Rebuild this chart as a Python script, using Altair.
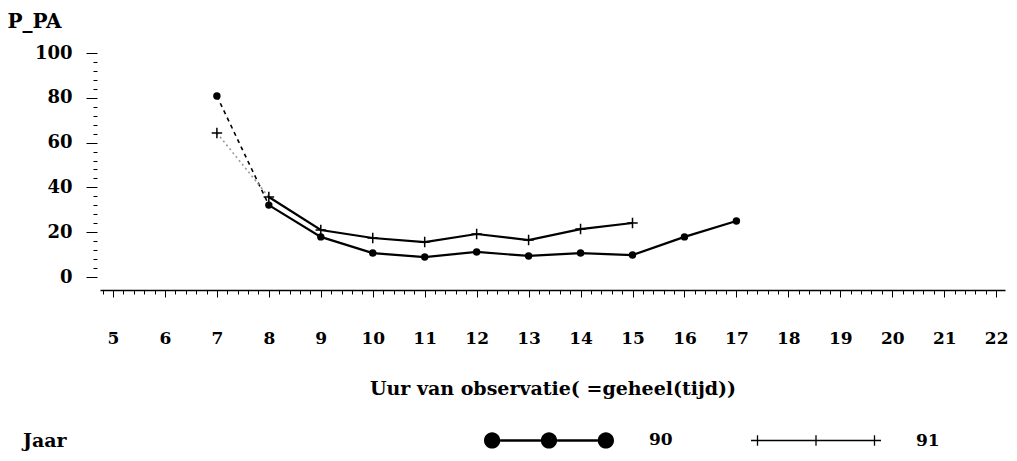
import altair as alt
import pandas as pd

# ---- data ----
hours_90 = [7, 8, 9, 10, 11, 12, 13, 14, 15, 16, 17]
p_pa_90 = [80.8, 32.1, 17.9, 10.7, 8.9, 11.2, 9.4, 10.7, 9.8, 17.9, 25.0]
hours_91 = [7, 8, 9, 10, 11, 12, 13, 14, 15]
p_pa_91 = [64.3, 35.7, 21.0, 17.4, 15.6, 19.2, 16.5, 21.4, 24.1]
x_ticks = list(range(5, 23))
y_ticks = [0, 20, 40, 60, 80, 100]

df = pd.DataFrame(
    {"uur": hours_90 + hours_91,
     "p": p_pa_90 + p_pa_91,
     "jaar": ["90"] * len(hours_90) + ["91"] * len(hours_91)}
)

X_END = 22.17
x_minor = [round(5 + i * 0.2, 1) for i in range(-1, 87)]
x_minor = [v for v in x_minor if abs(v - round(v)) > 1e-6 and 4.75 <= v <= X_END]
y_minor = [v for v in range(0, 101, 4) if v % 20 != 0]

FONT = "DejaVu Serif"
xs = alt.Scale(domain=[4.75, X_END], nice=False, zero=False)
ys = alt.Scale(domain=[-5.8, 100], nice=False, zero=False)

base = alt.Chart(df)

# solid lines from hour 8 onwards (carry the main axes)
solid = base.transform_filter("datum.uur >= 8").mark_line(
    color="black", strokeWidth=2.2
).encode(
    x=alt.X("uur:Q", scale=xs, axis=alt.Axis(
        values=x_ticks, title="Uur van observatie( =geheel(tijd))",
        tickSize=7, tickColor="black", domainColor="black", domainWidth=1.5,
        labelPadding=33, labelFont=FONT, labelFontSize=17, labelFontWeight="bold",
        labelColor="black", titleFont=FONT, titleFontSize=19, titleFontWeight="bold",
        titleColor="black", titlePadding=33, grid=False)),
    y=alt.Y("p:Q", scale=ys, axis=alt.Axis(
        values=y_ticks, title="P_PA", titleAngle=0, titleX=-90, titleY=-26,
        titleAlign="left", titleBaseline="alphabetic", titleFont=FONT,
        titleFontSize=20, titleFontWeight="bold", titleColor="black",
        tickSize=11, tickColor="black", offset=3, domain=False,
        labelPadding=14, labelFont=FONT, labelFontSize=18, labelFontWeight="bold",
        labelColor="black", grid=False)),
    detail="jaar:N",
)

# dashed segments between hours 7 and 8
dash90 = base.transform_filter("datum.uur <= 8 && datum.jaar == '90'").mark_line(
    color="black", strokeWidth=1.6, strokeDash=[4, 4]
).encode(x=alt.X("uur:Q", scale=xs, axis=None), y=alt.Y("p:Q", scale=ys, axis=None))
dash91 = base.transform_filter("datum.uur <= 8 && datum.jaar == '91'").mark_line(
    color="#9a9a9a", strokeWidth=1.6, strokeDash=[2, 3]
).encode(x=alt.X("uur:Q", scale=xs, axis=None), y=alt.Y("p:Q", scale=ys, axis=None))

dots = base.transform_filter("datum.jaar == '90'").mark_circle(
    color="black", size=55, opacity=1
).encode(x=alt.X("uur:Q", scale=xs, axis=None), y=alt.Y("p:Q", scale=ys, axis=None))

plus_path = "M-1,0L1,0M0,-1L0,1"
plus = base.transform_filter("datum.jaar == '91'").mark_point(
    shape=plus_path, color="black", size=110, strokeWidth=1.5, filled=False, opacity=1
).encode(x=alt.X("uur:Q", scale=xs, axis=None), y=alt.Y("p:Q", scale=ys, axis=None))

# legend symbols (custom paths)
r = 0.125
centers = (-0.875, 0.0, 0.875)
path90 = ""
for a, b in zip(centers[:-1], centers[1:]):
    path90 += f"M{a + r},-0.02L{b - r},-0.02L{b - r},0.02L{a + r},0.02Z"
for cx in centers:
    path90 += (f"M{cx - r},0A{r},{r} 0 0,1 {cx},{-r}A{r},{r} 0 0,1 {cx + r},0"
               f"A{r},{r} 0 0,1 {cx},{r}A{r},{r} 0 0,1 {cx - r},0Z")
path91 = "M-1,-0.011L1,-0.011L1,0.011L-1,0.011Z"
for tx in (-0.9, 0.0, 0.9):
    path91 += f"M{tx - 0.01},-0.08L{tx + 0.01},-0.08L{tx + 0.01},0.08L{tx - 0.01},0.08Z"

legend_layer = base.mark_point(filled=True, color="black", opacity=0).encode(
    x=alt.X("uur:Q", scale=xs, axis=None),
    y=alt.Y("p:Q", scale=ys, axis=None),
    shape=alt.Shape("jaar:N", scale=alt.Scale(domain=["90", "91"], range=[path90, path91]),
                    legend=alt.Legend(
                        title="Jaar", orient="none", legendX=-77, legendY=322,
                        direction="horizontal", titleOrient="left",
                        titleBaseline="line-top", titleLineHeight=59,
                        titlePadding=417,
                        labelOffset=35, columnPadding=78, symbolSize=16900,
                        symbolFillColor="black", symbolStrokeWidth=0, symbolOpacity=1,
                        labelFont=FONT, labelFontSize=17, labelFontWeight="bold",
                        labelColor="black", titleFont=FONT, titleFontSize=19,
                        titleFontWeight="bold", titleColor="black")),
)

# minor ticks layer
minor = base.mark_point(opacity=0).encode(
    x=alt.X("uur:Q", scale=xs, axis=alt.Axis(
        values=x_minor, orient="bottom", labels=False, title=None, domain=False,
        tickSize=4, tickColor="black", grid=False)),
    y=alt.Y("p:Q", scale=ys, axis=alt.Axis(
        values=y_minor, orient="left", labels=False, title=None, domain=False,
        offset=3, tickSize=4, tickColor="black", grid=False)),
)

chart = alt.layer(solid, minor, dash90, dash91, dots, plus, legend_layer).resolve_axis(
    x="independent", y="independent"
).properties(
    width=905, height=237,
    autosize=alt.AutoSizeParams(type="none"),
    padding={"left": 92, "top": 45, "right": 4, "bottom": 165},
).configure_view(stroke=None)

chart.save("out.html", embed_options={"renderer": "svg", "actions": False})
